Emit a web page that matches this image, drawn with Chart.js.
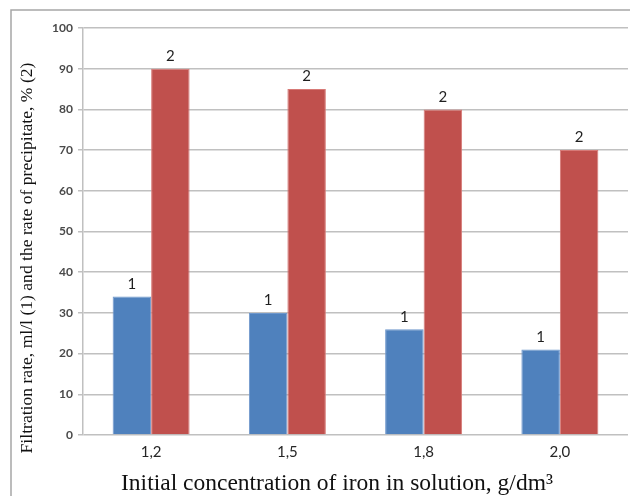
<!DOCTYPE html>
<html>
<head>
<meta charset="utf-8">
<script src="https://cdn.jsdelivr.net/npm/chart.js@4/dist/chart.umd.min.js"></script>
<style>
  html, body { margin: 0; padding: 0; background: #ffffff; }
  #wrap { width: 630px; height: 496px; position: relative; }
</style>
</head>
<body>
<div id="wrap"><canvas id="c" width="630" height="496"></canvas></div>
<script>
// Initial iron concentration, g/dm3
const categories = ['1,2', '1,5', '1,8', '2,0'];
// Series 1: filtration rate, ml/l
const filtrationRate = [34, 30, 26, 21];
// Series 2: rate of precipitate, %
const precipitateRate = [90, 85, 80, 70];
// Marker written above each bar of a series
const seriesMarks = ['1', '2'];
const yTicks = [0, 10, 20, 30, 40, 50, 60, 70, 80, 90, 100];

const yTitle = 'Filtration rate, ml/l (1) and the rate of precipitate, % (2)';
const xTitle = 'Initial concentration of iron in solution, g/dm\u00B3';

// Outer frame (top and left edges) and the two axis captions
const framePlugin = {
  id: 'frame',
  beforeDraw(chart) {
    const ctx = chart.ctx;
    ctx.save();
    ctx.fillStyle = '#ffffff';
    ctx.fillRect(0, 0, chart.width, chart.height);
    ctx.strokeStyle = '#a6a6a6';
    ctx.lineWidth = 1.5;
    ctx.beginPath();
    ctx.moveTo(11, chart.height);
    ctx.lineTo(11, 10);
    ctx.lineTo(chart.width, 10);
    ctx.stroke();
    ctx.restore();
  },
  afterDraw(chart) {
    const ctx = chart.ctx;
    ctx.save();
    ctx.fillStyle = '#111111';
    ctx.textAlign = 'center';
    ctx.textBaseline = 'middle';
    ctx.font = '23.5px "Liberation Serif", "Times New Roman", serif';
    ctx.fillText(xTitle, 337, 484);
    ctx.translate(27, 258);
    ctx.rotate(-Math.PI / 2);
    ctx.font = '17.6px "Liberation Serif", "Times New Roman", serif';
    ctx.fillText(yTitle, 0, 0);
    ctx.restore();
  }
};

// Series number written above every bar
const markPlugin = {
  id: 'marks',
  afterDatasetsDraw(chart) {
    const ctx = chart.ctx;
    ctx.save();
    ctx.font = '15px Lato, "Open Sans", sans-serif';
    ctx.fillStyle = '#1f1f1f';
    ctx.textAlign = 'center';
    ctx.textBaseline = 'bottom';
    chart.data.datasets.forEach((ds, i) => {
      const meta = chart.getDatasetMeta(i);
      meta.data.forEach(bar => {
        ctx.fillText(seriesMarks[i], bar.x, bar.y - 5);
      });
    });
    ctx.restore();
  }
};

new Chart(document.getElementById('c'), {
  type: 'bar',
  data: {
    labels: categories,
    datasets: [
      {
        label: seriesMarks[0],
        data: filtrationRate,
        backgroundColor: '#4f81bd',
        borderColor: '#6e97cc',
        borderWidth: 1
      },
      {
        label: seriesMarks[1],
        data: precipitateRate,
        backgroundColor: '#c0504d',
        borderColor: '#d77a77',
        borderWidth: 1
      }
    ]
  },
  options: {
    responsive: false,
    animation: false,
    devicePixelRatio: 1,
    layout: { padding: { top: 28, right: 2, left: 0, bottom: 0 } },
    plugins: {
      legend: { display: false },
      tooltip: { enabled: false },
      title: { display: false }
    },
    datasets: {
      bar: { categoryPercentage: 0.565, barPercentage: 1.0 }
    },
    scales: {
      x: {
        grid: { display: false, drawTicks: false },
        border: { display: false },
        ticks: {
          padding: 8,
          color: '#262626',
          font: { family: 'Lato, "Open Sans", sans-serif', size: 15 }
        },
        afterFit(scale) { scale.height = 61; }
      },
      y: {
        min: 0,
        max: 100,
        afterBuildTicks(scale) { scale.ticks = yTicks.map(v => ({ value: v })); },
        grid: {
          color: '#c0c0c0',
          lineWidth: 1.5,
          drawTicks: true,
          tickLength: 5
        },
        border: { display: true, color: '#c0c0c0', width: 1.5 },
        ticks: {
          padding: 5,
          color: '#4a4a4a',
          font: { family: 'Lato, "Open Sans", sans-serif', size: 12, weight: 'bold' }
        },
        afterFit(scale) { scale.width = 83; }
      }
    }
  },
  plugins: [framePlugin, markPlugin]
});
</script>
</body>
</html>
